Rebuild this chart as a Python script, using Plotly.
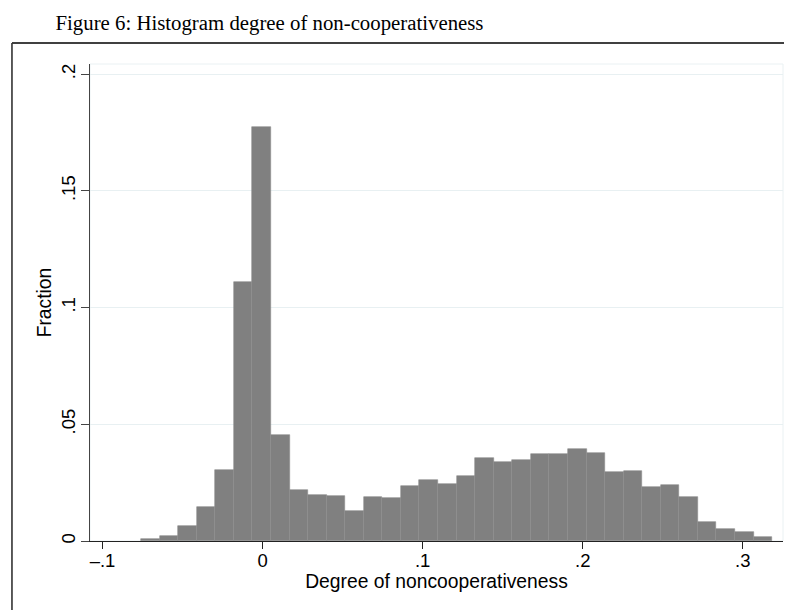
import plotly.graph_objects as go

# ---- data ----
bin_left = -0.0759      # lower edge of the first bin
bin_width = 0.011594    # common bin width
fractions = [0.0007, 0.0021, 0.0064, 0.0145, 0.0303, 0.1110, 0.1773, 0.0456,
             0.0220, 0.0199, 0.0192, 0.0127, 0.0187, 0.0184, 0.0236, 0.0263,
             0.0246, 0.0280, 0.0356, 0.0340, 0.0346, 0.0373, 0.0373, 0.0393,
             0.0377, 0.0295, 0.0302, 0.0232, 0.0240, 0.0187, 0.0080, 0.0053,
             0.0039, 0.0017]
x_tickvals = [-0.1, 0, 0.1, 0.2, 0.3]
x_ticktext = ["\u2013.1", "0", ".1", ".2", ".3"]
y_tickvals = [0, 0.05, 0.1, 0.15, 0.2]
y_ticktext = ["0", ".05", ".1", ".15", ".2"]
title_text = "Figure 6: Histogram degree of non-cooperativeness"
x_title = "Degree of noncooperativeness"
y_title = "Fraction"

centers = [bin_left + bin_width * (i + 0.5) for i in range(len(fractions))]

# page body has an 8px margin: figure is shifted by (8, 8) in the window
W, H = 784, 602
ml, mt = 82, 56
pw, ph = 692.7, 476.7
mr, mb = W - ml - pw, H - mt - ph

def px_to_paper_x(wx):
    return (wx - 8 - ml) / pw

def px_to_paper_y(wy):
    return (mt + ph - (wy - 8)) / ph

fig = go.Figure()
fig.add_trace(go.Bar(
    x=centers, y=fractions, width=bin_width,
    marker=dict(color="#808080", line=dict(color="#8c8c8c", width=0.6)),
    showlegend=False, hoverinfo="x+y",
))

sans = "Liberation Sans, Arial, sans-serif"
frame_x0 = px_to_paper_x(12)
frame_y1 = px_to_paper_y(43)

fig.update_layout(
    width=W, height=H,
    margin=dict(l=ml, r=mr, t=mt, b=mb, pad=0),
    paper_bgcolor="white", plot_bgcolor="white",
    bargap=0,
    title=dict(text=title_text, x=(269.5 - 8) / W, xanchor="center",
               y=1 - (23 - 8) / H, yanchor="middle", xref="container", yref="container",
               font=dict(family="Liberation Serif, Times New Roman, serif", size=20.8, color="black")),
    xaxis=dict(
        range=[-0.1078, 0.3251], tickvals=x_tickvals, ticktext=x_ticktext,
        showgrid=False, zeroline=False,
        showline=True, linecolor="#222222", linewidth=1.3,
        ticks="outside", ticklen=7, tickwidth=1.2, tickcolor="#222222",
        ticklabelstandoff=-4,
        tickfont=dict(family=sans, size=18.5, color="black"),
        title=dict(text=x_title, font=dict(family=sans, size=19.3, color="black"), standoff=0),
    ),
    yaxis=dict(
        range=[0, 0.2044], tickvals=y_tickvals, ticktext=y_ticktext,
        showgrid=True, gridcolor="#e8f0f2", gridwidth=1, zeroline=False,
        showline=True, linecolor="#444444", linewidth=1.3,
        ticks="outside", ticklen=8, tickwidth=1.2, tickcolor="#444444",
        tickangle=-90, ticklabelstandoff=-2,
        tickfont=dict(family=sans, size=18.5, color="black"),
        title=dict(text=y_title, font=dict(family=sans, size=19.3, color="black"), standoff=1),
    ),
    shapes=[
        # light plot-region outline
        dict(type="rect", xref="paper", yref="paper", x0=0, x1=1, y0=0, y1=1,
             line=dict(color="#eaf1f3", width=1), layer="below"),
        # outer frame: top edge and left edge (right/bottom lie outside the page)
        dict(type="line", xref="paper", yref="paper",
             x0=frame_x0, x1=1.2, y0=frame_y1, y1=frame_y1,
             line=dict(color="black", width=1.6), layer="above"),
        dict(type="line", xref="paper", yref="paper",
             x0=frame_x0, x1=frame_x0, y0=-0.2, y1=frame_y1,
             line=dict(color="#333333", width=1.6), layer="above"),
    ],
)

fig.write_html("out.html")
